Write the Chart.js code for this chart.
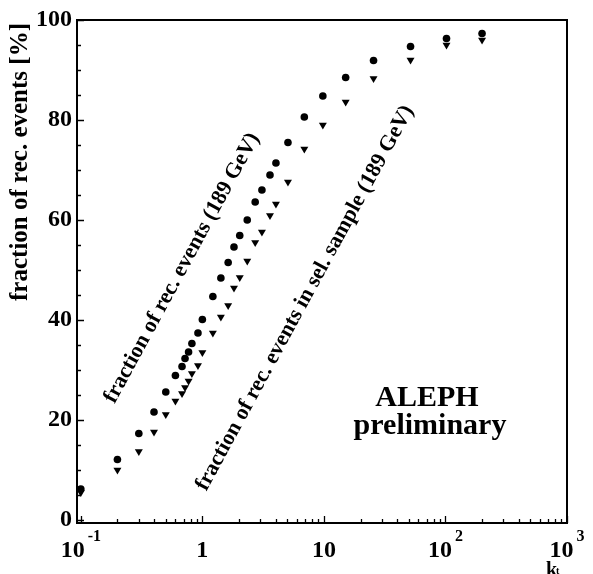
<!DOCTYPE html>
<html>
<head>
<meta charset="utf-8">
<script src="https://cdn.jsdelivr.net/npm/chart.js@4.4.1/dist/chart.umd.min.js"></script>
<style>
  body { margin: 0; background: #fff; }
  #wrap { width: 593px; height: 574px; position: relative; }
</style>
</head>
<body>
<div id="wrap"><canvas id="fracChart"></canvas></div>
<script>
// k_t cut values and the two fractions (%)
var ktValues = [0.1, 0.2, 0.3, 0.4, 0.5, 0.6, 0.68, 0.72, 0.77, 0.82, 0.92, 1.0, 1.22, 1.42, 1.63, 1.82, 2.03, 2.34, 2.72, 3.09, 3.6, 4.03, 5.06, 6.9, 9.8, 15.1, 25.6, 51.6, 102, 200];
var recEvents = [6.2, 12.1, 17.3, 21.6, 25.6, 28.9, 30.7, 32.3, 33.6, 35.3, 37.4, 40.1, 44.7, 48.4, 51.5, 54.6, 56.9, 60.0, 63.6, 66.0, 69.0, 71.4, 75.5, 80.6, 84.8, 88.5, 91.9, 94.7, 96.3, 97.3];
var selSample = [5.5, 10.0, 13.7, 17.6, 21.1, 23.8, 25.3, 26.5, 27.8, 29.3, 30.9, 33.5, 37.4, 40.6, 42.9, 46.4, 48.5, 51.8, 55.5, 57.6, 60.9, 63.2, 67.6, 74.2, 79.0, 83.6, 88.3, 92.0, 95.0, 96.0];

var yTicks = [0, 20, 40, 60, 80, 100];
var xDecades = [0.1, 1, 10, 100, 1000];
var xTickBase = ['10', '1', '10', '10', '10'];
var xTickSup = ['-1', '', '', '2', '3'];

var SERIF = '"Liberation Serif", "Times New Roman", serif';

function toPoints(ys) {
  return ktValues.map(function(x, i) { return {x: x, y: ys[i]}; });
}

// frame, inward ticks, x labels and the text on the plot
var decorPlugin = {
  id: 'decor',
  afterDraw: function(chart) {
    var ctx = chart.ctx;
    var a = chart.chartArea;
    var xs = chart.scales.x, ys = chart.scales.y;
    ctx.save();
    ctx.strokeStyle = '#000';
    ctx.lineWidth = 2;
    ctx.strokeRect(a.left, a.top, a.right - a.left, a.bottom - a.top);

    // y ticks every 5, long on the labelled ones
    ctx.lineWidth = 1.3;
    ctx.beginPath();
    for (var v = 0; v <= 100; v += 5) {
      var py = Math.round(ys.getPixelForValue(v)) + 0.5;
      var len = (v % 20 === 0) ? 7 : 4;
      ctx.moveTo(a.left, py);
      ctx.lineTo(a.left + len, py);
    }
    // x ticks per decade
    for (var d = 0; d < xDecades.length; d++) {
      for (var m = 1; m <= 9; m++) {
        var val = xDecades[d] * m;
        if (val > 1000) break;
        var px = Math.round(xs.getPixelForValue(val)) + 0.5;
        var l = (m === 1) ? 7 : 4;
        ctx.moveTo(px, a.bottom);
        ctx.lineTo(px, a.bottom - l);
      }
    }
    ctx.stroke();

    // x tick labels with exponents
    ctx.fillStyle = '#000';
    ctx.textBaseline = 'alphabetic';
    for (var i = 0; i < xDecades.length; i++) {
      var cx = xs.getPixelForValue(xDecades[i]);
      ctx.font = 'bold 24px ' + SERIF;
      var wb = ctx.measureText(xTickBase[i]).width;
      ctx.font = 'bold 16px ' + SERIF;
      var ws = xTickSup[i] ? ctx.measureText(xTickSup[i]).width + 3 : 0;
      var x0 = cx - (wb + ws) / 2;
      ctx.font = 'bold 24px ' + SERIF;
      ctx.textAlign = 'left';
      ctx.fillText(xTickBase[i], x0, 557);
      if (xTickSup[i]) {
        ctx.font = 'bold 16px ' + SERIF;
        ctx.fillText(xTickSup[i], x0 + wb + 3, 541);
      }
    }

    // x axis title k_t
    ctx.font = 'bold 20px ' + SERIF;
    ctx.fillText('k', 546, 576);
    ctx.font = 'bold 10px ' + SERIF;
    ctx.fillText('t', 556, 574);

    // y axis title
    ctx.save();
    ctx.translate(21, 162);
    ctx.rotate(-Math.PI / 2);
    ctx.textAlign = 'center';
    ctx.textBaseline = 'middle';
    ctx.font = 'bold 25px ' + SERIF;
    ctx.fillText('fraction of rec. events [%]', 0, 0);
    ctx.restore();

    // slanted series labels
    var labels = [
      {t: 'fraction of rec. events (189 GeV)', x: 182, y: 268},
      {t: 'fraction of rec. events in sel. sample (189 GeV)', x: 305, y: 298}
    ];
    labels.forEach(function(lb) {
      ctx.save();
      ctx.translate(lb.x, lb.y);
      ctx.rotate(-61.5 * Math.PI / 180);
      ctx.textAlign = 'center';
      ctx.textBaseline = 'middle';
      ctx.font = 'bold 22px ' + SERIF;
      ctx.fillText(lb.t, 0, 0);
      ctx.restore();
    });

    ctx.textAlign = 'center';
    ctx.textBaseline = 'middle';
    ctx.font = 'bold 30px ' + SERIF;
    ctx.fillText('ALEPH', 427, 398);
    ctx.fillText('preliminary', 430, 426);
    ctx.restore();
  }
};

var chart = new Chart(document.getElementById('fracChart'), {
  type: 'scatter',
  data: {
    datasets: [
      {
        label: 'fraction of rec. events (189 GeV)',
        data: toPoints(recEvents),
        pointStyle: 'circle',
        pointRadius: 3.8,
        pointBorderWidth: 0,
        backgroundColor: '#000',
        borderColor: '#000'
      },
      {
        label: 'fraction of rec. events in sel. sample (189 GeV)',
        data: toPoints(selSample),
        pointStyle: 'triangle',
        pointRotation: 180,
        pointRadius: 4.6,
        pointBorderWidth: 0,
        backgroundColor: '#000',
        borderColor: '#000'
      }
    ]
  },
  options: {
    responsive: true,
    maintainAspectRatio: false,
    animation: false,
    layout: { padding: { top: 20, right: 26, left: 0, bottom: 0 } },
    plugins: {
      legend: { display: false },
      tooltip: { enabled: false }
    },
    scales: {
      x: {
        type: 'logarithmic',
        min: 0.093,
        max: 1000,
        grid: { display: false, drawTicks: false },
        border: { display: false },
        ticks: { display: false },
        afterFit: function(s) { s.height = 51; }
      },
      y: {
        type: 'linear',
        min: -0.6,
        max: 100,
        grid: { display: false, drawTicks: false },
        border: { display: false },
        afterBuildTicks: function(s) {
          s.ticks = yTicks.map(function(v) { return {value: v}; });
        },
        ticks: {
          color: '#000',
          padding: 5,
          font: { family: SERIF, size: 24, weight: 'bold' }
        },
        afterFit: function(s) { s.width = 77; }
      }
    }
  },
  plugins: [decorPlugin]
});
</script>
</body>
</html>
